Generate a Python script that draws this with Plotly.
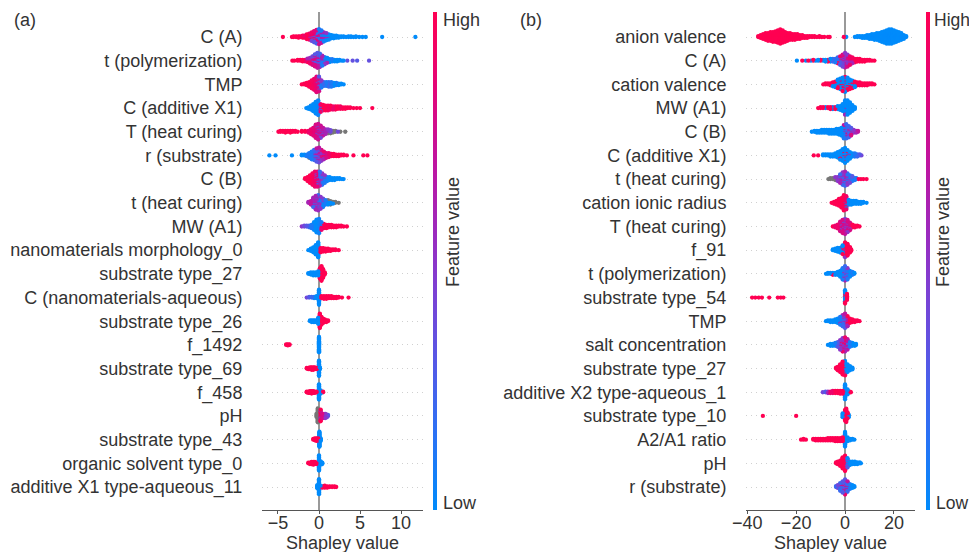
import numpy as np
import plotly.graph_objects as go

# ---------------- data ----------------
# Each feature: list of (shapley value, number of samples, feature value 0..1 or None = missing)
FEATURES_A = ["C (A)", "t (polymerization)", "TMP", "C (additive X1)", "T (heat curing)",
              "r (substrate)", "C (B)", "t (heat curing)", "MW (A1)", "nanomaterials morphology_0",
              "substrate type_27", "C (nanomaterials-aqueous)", "substrate type_26", "f_1492",
              "substrate type_69", "f_458", "pH", "substrate type_43", "organic solvent type_0",
              "additive X1 type-aqueous_11"]

a_C_A = [(-4.4,1,1),(-3.3,1,1),(-3.1,2,1),(-2.8,2,1),(-2.5,3,1),(-2.3,2,0.9),(-2.0,4,1),(-1.8,4,0.9),
         (-1.5,6,1),(-1.5,2,0.6),(-1.2,7,0.9),(-1.2,3,0.5),(-0.9,9,0.9),(-0.9,5,0.4),(-0.6,11,0.85),
         (-0.6,7,0.3),(-0.3,12,0.8),(-0.3,10,0.2),(0.0,12,0.75),(0.0,12,0.1),(0.3,9,0.7),(0.3,11,0.1),
         (0.6,6,0.6),(0.6,9,0.05),(0.9,4,0.5),(0.9,8,0),(1.2,2,0.6),(1.2,7,0),(1.5,6,0),(1.8,5,0),
         (2.1,4,0),(2.4,3,0),(2.7,2,0),(3.0,2,0),(3.3,1,0),(3.6,2,0),(3.9,2,0),(4.2,1,0),(4.5,2,0),
         (4.9,1,0),(5.3,1,0),(5.7,1,0),(7.7,1,0),(11.75,1,0)]
a_t_poly = [(-3.25,1,1),(-3.0,1,1),(-2.6,2,1),(-2.3,2,1),(-2.0,3,1),(-1.7,3,0.9),(-1.4,4,1),(-1.4,2,0.6),
            (-1.1,6,0.9),(-1.1,3,0.5),(-0.8,8,0.8),(-0.8,5,0.4),(-0.5,11,0.8),(-0.5,7,0.3),(-0.2,12,0.7),
            (-0.2,10,0.3),(0.1,10,0.6),(0.1,10,0.2),(0.4,7,0.6),(0.4,8,0.1),(0.7,4,0.5),(0.7,7,0.05),
            (1.0,2,0.6),(1.0,6,0),(1.3,5,0),(1.6,4,0.1),(1.9,3,0),(2.2,3,0),(2.5,2,0),(2.8,1,0),(3.0,1,0),
            (3.45,1,0.35),(4.1,1,0.35),(4.65,1,0.3),(6.1,1,0.35)]
a_TMP = [(-2.1,1,1),(-1.8,2,1),(-1.5,4,1),(-1.2,7,1),(-0.9,11,0.95),(-0.6,15,0.9),(-0.3,18,0.85),(-0.3,3,0.3),
         (0.0,14,0.8),(0.0,6,0.3),(0.3,4,0.5),(0.3,6,0.1),(0.6,6,0.2),(0.9,6,0.1),(1.2,7,0.2),(1.5,7,0.1),
         (1.8,5,0),(2.1,4,0.1),(2.4,3,0),(2.7,2,0),(3.0,1,0)]
a_C_addX1 = [(-1.55,1,0),(-1.3,3,0),(-1.0,6,0),(-0.7,10,0),(-0.4,16,0),(-0.1,20,0.05),(0.2,8,0.9),(0.2,3,0.2),
             (0.5,8,1),(0.8,7,1),(1.1,7,0.95),(1.4,6,1),(1.7,5,0.9),(2.0,5,1),(2.3,4,1),(2.6,4,0.95),
             (2.9,3,1),(3.2,3,1),(3.5,2,1),(3.8,2,1),(4.2,1,1),(4.6,1,1),(5.0,1,1),(6.5,1,1)]
a_T_heat = [(-4.95,1,1),(-4.7,2,1),(-4.4,2,1),(-4.1,3,1),(-3.8,2,1),(-3.5,3,1),(-3.2,2,1),(-2.9,2,1),(-2.6,1,1),
            (-2.1,2,1),(-1.7,2,1),(-1.3,3,0.9),(-1.0,7,0.9),(-0.7,11,0.85),(-0.4,15,0.8),(-0.4,3,0.4),
            (-0.1,16,0.75),(-0.1,5,0.4),(0.2,12,0.75),(0.2,5,0.4),(0.5,8,0.7),(0.5,3,0.3),(0.8,5,0.6),
            (0.8,2,None),(1.1,3,0.5),(1.1,3,None),(1.4,2,0.4),(1.4,3,None),(1.7,3,None),(2.0,2,None),
            (2.3,1,0.4),(2.6,1,None),(3.2,1,None)]
a_r_sub = [(-6.05,1,0),(-5.3,1,0),(-3.3,1,0),(-2.1,2,0),(-1.8,2,0),(-1.5,3,0.1),(-1.2,5,0.1),(-1.2,2,None),
           (-0.9,8,0.1),(-0.9,3,None),(-0.6,10,0.2),(-0.6,4,0.6),(-0.3,12,0.3),(-0.3,6,0.7),(0.0,12,0.4),
           (0.0,8,0.7),(0.3,8,0.5),(0.3,7,0.8),(0.6,6,0.6),(0.6,5,0.9),(0.9,7,0.8),(1.2,6,0.9),(1.5,4,1),
           (1.8,4,1),(2.1,3,1),(2.4,3,1),(2.7,2,1),(3.0,2,1),(3.4,1,1),(4.2,1,1),(5.4,1,1),(5.9,1,1)]
a_C_B = [(-1.7,2,1),(-1.4,5,1),(-1.1,9,1),(-0.8,13,0.95),(-0.5,14,0.9),(-0.5,3,0.4),(-0.2,12,0.85),(-0.2,5,0.3),
         (0.1,8,0.6),(0.1,8,0.2),(0.4,5,0.5),(0.4,8,0.15),(0.7,3,0.5),(0.7,6,0.1),(1.0,5,0.05),(1.3,4,0),
         (1.6,3,0),(1.9,3,0),(2.2,2,0),(2.5,2,0),(2.8,1,0),(3.0,1,0)]
a_t_heat = [(-1.3,2,0.6),(-1.0,5,0.7),(-0.7,9,0.6),(-0.7,3,0.2),(-0.4,12,0.6),(-0.4,5,0.3),(-0.1,13,0.55),
            (-0.1,6,0.2),(0.2,9,0.5),(0.2,6,0.1),(0.5,5,0.4),(0.5,6,0.05),(0.8,4,0.1),(0.8,2,None),(1.1,3,0),
            (1.1,3,None),(1.4,2,0),(1.4,3,None),(1.7,2,None),(1.7,1,0),(2.0,2,None),(2.4,1,None)]
a_MW_A1 = [(-2.1,1,0.5),(-1.8,2,0.4),(-1.5,2,0.3),(-1.2,3,0.2),(-0.9,5,0.1),(-0.6,10,0),(-0.3,16,0),(0.0,18,0.05),
           (0.3,6,0.9),(0.3,4,0.1),(0.6,6,1),(0.9,5,1),(1.2,4,1),(1.5,4,1),(1.8,3,1),(2.1,3,1),(2.4,2,1),
           (2.7,2,1),(3.0,1,1),(3.4,1,1)]
a_nano_morph0 = [(-1.3,1,0),(-1.0,4,0),(-0.7,8,0),(-0.4,14,0),(-0.1,22,0),(0.2,7,1),(0.5,6,1),(0.8,5,1),
                 (1.1,4,1),(1.4,3,1),(1.7,2,1),(2.0,2,1),(2.4,1,1)]
a_sub27 = [(-1.3,2,0),(-1.0,4,0),(-0.7,5,0),(-0.4,5,0),(-0.1,6,0),(0.1,14,1),(0.3,20,1),(0.5,12,1),(0.7,4,1)]
a_C_nano_aq = [(-1.5,1,0.4),(-1.2,2,0.3),(-0.9,2,0.2),(-0.6,3,0.1),(-0.3,4,0),(0.0,24,0),(0.3,4,1),(0.6,5,1),
               (0.9,5,1),(1.2,4,1),(1.5,4,1),(1.8,3,1),(2.1,3,1),(2.4,2,1),(2.8,1,1),(3.6,1,1)]
a_sub26 = [(-1.1,2,0),(-0.9,3,0),(-0.7,3,0),(-0.5,3,0),(-0.3,3,0),(-0.1,8,0),(0.1,18,1),(0.3,10,1),(0.5,6,1),
           (0.7,4,1),(0.9,3,1),(1.1,2,1)]
a_f1492 = [(-4.0,2,1),(-3.8,3,1),(-3.6,2,1),(0.0,30,0)]
a_sub69 = [(-1.5,2,1),(-1.3,3,1),(-1.1,4,1),(-0.9,5,1),(-0.7,5,1),(-0.5,4,1),(-0.3,3,1),(0.0,26,0),(0.1,4,0)]
a_f458 = [(-1.5,2,1),(-1.3,3,1),(-1.1,4,1),(-0.9,5,1),(-0.7,4,1),(-0.5,3,1),(-0.3,2,1),(0.0,26,0),(0.2,6,0),(0.5,2,1)]
a_pH = [(-0.3,4,None),(-0.15,14,None),(0.0,12,None),(0.2,8,1),(0.2,4,0.6),(0.4,5,0.8),(0.6,5,0.6),(0.8,5,0.5),
        (1.0,3,0.4),(1.1,2,0.3)]
a_sub43 = [(-0.7,2,1),(-0.5,4,1),(-0.3,5,1),(-0.1,4,1),(0.05,24,0),(0.2,5,0)]
a_org_solv0 = [(-1.3,2,1),(-1.1,3,1),(-0.9,4,1),(-0.7,5,1),(-0.5,4,1),(-0.3,3,1),(0.0,24,0),(0.2,6,0),(0.4,3,0)]
a_addX1_aq11 = [(-0.2,6,0),(0.0,24,0),(0.2,4,0),(0.4,3,1),(0.7,4,1),(1.0,3,1),(1.3,2,1),(1.6,2,1),(1.9,2,1),(2.1,1,1)]

FEATURES_B = ["anion valence", "C (A)", "cation valence", "MW (A1)", "C (B)", "C (additive X1)",
              "t (heat curing)", "cation ionic radius", "T (heat curing)", "f_91", "t (polymerization)",
              "substrate type_54", "TMP", "salt concentration", "substrate type_27",
              "additive X2 type-aqueous_1", "substrate type_10", "A2/A1 ratio", "pH", "r (substrate)"]

b_anion_val = [(-35.5,2,1),(-34.5,4,1),(-33.5,6,1),(-32.5,8,1),(-31.5,9,1),(-30.5,10,1),(-29.5,11,1),(-28.5,12,1),
               (-27.5,14,1),(-26.5,16,1),(-25.5,14,1),(-24.5,11,1),(-23.5,9,1),(-22.5,8,1),(-21.5,7,1),
               (-20.5,7,1),(-19.5,6,1),(-18.5,5,1),(-17.5,4,1),(-16.5,3,1),(-15.5,3,1),(-14.5,2,1),(-13.5,2,1),
               (-12.5,2,1),(-11.5,1,1),(-10.5,2,1),(-9.5,1,1),(-8.5,1,1),(-7.0,1,1),(-6.3,1,1),(-0.5,1,1),
               (0.5,1,0),(4.0,1,0),(5.0,2,0),(6.0,2,0),(7.0,3,0),(8.0,3,0),(9.0,4,0),(10.0,5,0),(11.0,6,0),
               (12.0,7,0),(13.0,8,0),(14.0,9,0),(15.0,11,0),(16.0,13,0),(17.0,15,0),(18.0,16,0),(19.0,16,0),
               (20.0,14,0),(21.0,12,0),(22.0,10,0),(23.0,8,0),(24.0,5,0),(25.0,2,0)]
b_C_A = [(-19.7,1,0),(-17.5,1,1),(-16,1,0),(-15,1,1),(-14,1,0),(-13,2,1),(-12,1,0),(-11,2,0),(-10,2,1),(-9,2,0),
         (-8,3,0),(-7,3,1),(-6,4,0),(-5,4,0.2),(-4,5,0.1),(-3,6,0.2),(-3,2,1),(-2,8,0.3),(-2,3,0.9),(-1,10,0.4),
         (-1,5,0.8),(0,10,0.5),(0,8,0.7),(1,8,0.5),(1,7,0.8),(2,5,0.6),(2,6,0.9),(3,3,0.6),(3,5,0.95),(4,5,1),
         (5,4,1),(6,4,1),(7,3,1),(8,3,1),(9,2,1),(10,2,1),(11,1,1),(12,1,1)]
b_cation_val = [(-8.9,1,1),(-8,2,1),(-7,2,1),(-6,3,1),(-5,3,0),(-5,2,1),(-4,5,0),(-4,2,1),(-3,7,0),(-3,3,1),
                (-2,9,0),(-2,3,1),(-1,11,0),(-1,4,1),(0,12,0),(0,5,1),(1,10,0),(1,4,1),(2,7,0),(2,4,1),(3,5,0),
                (3,4,1),(4,3,0),(4,4,1),(5,4,1),(6,4,1),(7,3,1),(8,3,1),(9,3,1),(10,2,1),(11,2,1),(12,1,1)]
b_MW_A1 = [(-11,1,1),(-10,2,1),(-9,2,1),(-8,2,0),(-7,2,1),(-6,3,1),(-5,3,0),(-4,3,1),(-3,4,0),(-2,5,0),(-1,8,0),
           (0,14,0),(0,2,0.6),(1,16,0),(2,12,0),(3,7,0),(4,3,0)]
b_C_B = [(-13.6,1,0),(-12.5,2,0),(-11.5,3,0),(-10.5,3,0),(-9.5,4,0),(-8.5,4,0),(-7.5,4,0),(-6.5,5,0),(-5.5,5,0),
         (-4.5,5,0),(-3.5,6,0),(-2.5,7,0),(-1.5,9,0),(-0.5,12,0.1),(-0.5,3,0.7),(0.5,12,0.2),(0.5,4,0.8),
         (1.5,9,0.2),(1.5,4,0.6),(2.5,6,0.3),(2.5,3,0.8),(3.5,4,0.5),(4.5,3,0.6),(5.3,2,0.7)]
b_C_addX1 = [(-12.8,1,1),(-11,1,1),(-9,2,0),(-8,2,0),(-7,2,0),(-6,3,0),(-5,3,0),(-4,4,0),(-3,6,0),(-2,8,0),
             (-2,1,1),(-1,10,0),(-1,2,1),(0,12,0),(0,3,1),(1,9,0),(1,2,1),(2,6,0),(2,1,0.6),(3,4,0),(4,4,0.1),
             (5,3,0.2),(6,2,0.3),(6.7,1,0.4)]
b_t_heat = [(-6.8,1,None),(-6,2,None),(-5,2,None),(-4,3,None),(-4,1,0.5),(-3,5,0.5),(-2,7,0.6),(-2,3,0.2),
            (-1,9,0.5),(-1,5,0.2),(0,10,0.6),(0,6,0.2),(1,8,0.5),(1,5,0.15),(2,5,0.4),(2,4,0.1),(3,3,0.3),
            (3,3,0.1),(4,3,0.1),(4.6,2,0.1),(5.5,1,1),(6.5,1,1),(7.5,1,1),(8.8,1,1)]
b_cation_radius = [(-5.5,1,1),(-4.5,3,1),(-3.5,5,1),(-2.5,8,1),(-1.5,11,1),(-0.5,15,1),(-0.5,2,0.6),(0.5,12,0.9),
                   (0.5,3,0),(1.5,6,0),(2.5,5,0),(3.5,4,0),(4.5,4,0),(5.5,3,0),(6.5,3,0),(7.5,2,0),(8.8,1,0)]
b_T_heat = [(-5,1,1),(-4,3,0.9),(-3,5,0.9),(-2,8,0.8),(-2,3,0.4),(-1,11,0.8),(-1,4,0.4),(0,12,0.7),(0,5,0.4),
            (1,10,0.8),(1,4,0.5),(2,7,0.8),(2,2,0.4),(3,4,1),(4,3,1),(5,2,1),(5.9,1,1)]
b_f91 = [(-5,2,0),(-4,4,0),(-3,6,0),(-2,7,0),(-1,6,0),(-1,6,1),(0,18,1),(0,2,0.5),(1,16,1),(2,8,1),(2.5,3,1)]
b_t_poly = [(-7.8,1,0),(-7,2,0),(-6,2,0),(-5,2,1),(-5,1,0),(-4,3,0),(-3,4,0),(-2,7,0),(-1,10,0.1),(-1,3,0.6),
            (0,12,0.2),(0,4,0.6),(1,10,0.1),(1,3,0.5),(2,7,0),(3,4,0.1),(3.8,2,0)]
b_sub54 = [(-38,1,1),(-36.7,1,1),(-35.3,1,1),(-34,1,1),(-31,1,1),(-27.5,1,1),(-26.3,1,1),(-25.2,1,1),
           (0,8,0),(0,4,1),(0.8,6,1)]
b_TMP = [(-7.8,1,0),(-7,2,0),(-6,3,0),(-5,3,0),(-4,4,0),(-3,6,0),(-2,8,0.1),(-2,2,0.6),(-1,10,0.2),(-1,4,0.6),
         (0,12,0.3),(0,6,0.7),(1,8,0.6),(1,5,1),(2,6,1),(3,4,1),(4,3,1),(5,2,1),(5.9,1,1)]
b_salt_conc = [(-7,1,0),(-6,3,0),(-5,3,0),(-4,4,0.1),(-3,6,0.3),(-2,8,0.5),(-2,3,0.9),(-1,10,0.5),(-1,5,0.9),
               (0,10,0.6),(0,6,0.9),(1,8,0.7),(1,4,0.2),(2,6,0.1),(3,4,0),(4,3,0),(4.5,2,0)]
b_sub27 = [(-3.7,2,1),(-3,5,1),(-2,10,1),(-1,16,1),(0,14,0),(0,4,1),(1,10,0),(2,6,0),(3,3,0)]
b_addX2_aq1 = [(-9.1,1,0.4),(-8,2,0.3),(-7,3,0.6),(-6,3,0.9),(-5,4,0.9),(-4,4,1),(-3,4,1),(-2,5,1),(-1,5,1),
               (0,22,0),(1,6,0),(1,2,1),(2,2,1),(2.4,1,1)]
b_sub10 = [(-33.6,1,1),(-20,1,1),(-1,4,0),(0,10,1),(0.5,12,1),(1,6,1),(1.5,3,0)]
b_A2A1 = [(-18,1,1),(-17,2,1),(-16,1,1),(-13,2,1),(-12,3,1),(-11,3,1),(-10,3,1),(-9,3,1),(-8,3,1),(-7,4,1),
          (-6,4,1),(-5,4,1),(-4,5,1),(-3,5,1),(-2,5,1),(-1,6,1),(0,20,0),(1,6,0),(2,3,0),(3,2,0),(3.8,1,0)]
b_pH = [(-3.7,2,1),(-3,4,1),(-2,7,1),(-1,12,1),(-1,2,None),(0,16,1),(0,3,0.5),(1,8,0.3),(1,4,0),(2,5,0),
        (3,4,0),(4,4,0),(5,3,0),(6,2,0),(6.5,1,0)]
b_r_sub = [(-3.7,2,0.2),(-3,4,0.4),(-2,7,0.2),(-2,2,0.8),(-1,10,0.3),(-1,3,0.8),(0,12,0.3),(0,5,0.9),
           (1,9,0.2),(1,3,0.7),(2,6,0.1),(3,4,0),(3.8,2,0)]

XTICKS_A = [-5, 0, 5, 10]
XTICKS_B = [-40, -20, 0, 20]
XTITLE = "Shapley value"

DATA_A = [a_C_A, a_t_poly, a_TMP, a_C_addX1, a_T_heat, a_r_sub, a_C_B, a_t_heat, a_MW_A1, a_nano_morph0,
          a_sub27, a_C_nano_aq, a_sub26, a_f1492, a_sub69, a_f458, a_pH, a_sub43, a_org_solv0, a_addX1_aq11]
DATA_B = [b_anion_val, b_C_A, b_cation_val, b_MW_A1, b_C_B, b_C_addX1, b_t_heat, b_cation_radius, b_T_heat,
          b_f91, b_t_poly, b_sub54, b_TMP, b_salt_conc, b_sub27, b_addX2_aq1, b_sub10, b_A2A1, b_pH, b_r_sub]

# ---------------- layout helpers ----------------
# body margin is removed by a post script, so the figure starts at the page corner
OFF = 0
W, H = 969, 552


def fx(px):
    return (px - OFF) / W


def fy(py):
    return 1 - (py - OFF) / H


COLORSCALE = [[0.0, '#008bfb'], [0.15, '#2a72f5'], [0.3, '#5658e6'], [0.45, '#7f3fd2'],
              [0.55, '#9a2bbf'], [0.7, '#c0149f'], [0.85, '#e40577'], [1.0, '#ff0052']]
TXT = '#333333'
FONT = 'Liberation Sans, Arial, sans-serif'
MSIZE = 4.3


def swarm(clusters, row, row_height=0.4):
    xs, cs = [], []
    for s, n, fv in clusters:
        xs += [s] * n
        cs += [fv] * n
    xs = np.array(xs, float)
    N = len(xs)
    quant = np.round(100 * (xs - xs.min()) / (xs.max() - xs.min() + 1e-8))
    tie = (np.arange(N) * 0.6180339887) % 1.0
    inds = np.lexsort((tie, quant))
    ys = np.zeros(N)
    layer, last = 0, None
    for ind in inds:
        if quant[ind] != last:
            layer = 0
        ys[ind] = np.ceil(layer / 2) * ((layer % 2) * 2 - 1)
        layer += 1
        last = quant[ind]
    ys *= 0.9 * (row_height / np.max(ys + 1))
    return xs, row + ys, cs, tie


fig = go.Figure()


def add_panel(features, data, xref, yref, cax):
    nrow = len(features)
    gx, gy, px, py, pc, pk = [], [], [], [], [], []
    for i, cl in enumerate(data):
        row = nrow - 1 - i
        xs, ys, cs, tie = swarm(cl, row)
        for x, y, c, t in zip(xs, ys, cs, tie):
            if c is None:
                gx.append(x); gy.append(y)
            else:
                px.append(x); py.append(y); pc.append(c); pk.append(t)
    order = np.argsort(pk, kind='stable')
    px = np.array(px)[order]; py = np.array(py)[order]; pc = np.array(pc)[order]
    fig.add_trace(go.Scatter(x=gx, y=gy, mode='markers', xaxis=xref, yaxis=yref, hoverinfo='skip',
                             marker=dict(size=MSIZE, color='#777777', line=dict(width=0))))
    fig.add_trace(go.Scatter(x=px, y=py, mode='markers', xaxis=xref, yaxis=yref, hoverinfo='skip',
                             marker=dict(size=MSIZE, color=pc, coloraxis=cax, line=dict(width=0))))


add_panel(FEATURES_A, DATA_A, 'x', 'y', 'coloraxis')
add_panel(FEATURES_B, DATA_B, 'x2', 'y2', 'coloraxis2')

YDOM = [fy(510), fy(12)]
YRANGE = [-0.971, 20.056]


def yaxis_cfg(features, anchor):
    n = len(features)
    return dict(domain=YDOM, range=YRANGE, tickvals=list(range(n)), ticktext=features[::-1],
                showgrid=True, gridcolor='#d0d0d0', griddash='1px,4px', gridwidth=1,
                ticks='outside', ticklen=15, tickcolor='rgba(0,0,0,0)', showline=False,
                zeroline=False, automargin=False, anchor=anchor,
                tickfont=dict(size=18, color=TXT, family=FONT), fixedrange=True)


def xaxis_cfg(domain, rng, ticks, anchor):
    return dict(domain=domain, range=rng, tickvals=ticks, anchor=anchor,
                ticktext=[('\u2212' + str(abs(t))) if t < 0 else str(t) for t in ticks],
                showline=True, linecolor='#555555', linewidth=1, ticks='outside', ticklen=3,
                tickcolor='#555555', showgrid=False, zeroline=True, zerolinecolor='#999999',
                zerolinewidth=1.5, automargin=False, ticklabelstandoff=-7,
                tickfont=dict(size=18, color=TXT, family=FONT))


def cbar(x):
    return dict(x=x, xanchor='left', xpad=0, ypad=0, thickness=4, len=498, lenmode='pixels',
                y=fy(12), yanchor='top', outlinewidth=0, showticklabels=False, ticks='')


fig.update_layout(
    width=W, height=H, margin=dict(l=0, r=0, t=0, b=0, autoexpand=False),
    plot_bgcolor='white', paper_bgcolor='white', showlegend=False,
    font=dict(family=FONT, size=18, color=TXT),
    xaxis=xaxis_cfg([fx(262), fx(423)], [-6.95, 12.68], XTICKS_A, 'y'),
    yaxis=yaxis_cfg(FEATURES_A, 'x'),
    xaxis2=xaxis_cfg([fx(746), fx(915)], [-40.5, 28.6], XTICKS_B, 'y2'),
    yaxis2=yaxis_cfg(FEATURES_B, 'x2'),
    coloraxis=dict(colorscale=COLORSCALE, cmin=0, cmax=1, colorbar=cbar(fx(433))),
    coloraxis2=dict(colorscale=COLORSCALE, cmin=0, cmax=1, colorbar=cbar(fx(926))),
)

ann = [
    dict(text='(a)', x=12, y=20, xanchor='left'),
    dict(text='(b)', x=518, y=20, xanchor='left'),
    dict(text='High', x=441, y=20, xanchor='left'),
    dict(text='Low', x=441, y=503, xanchor='left'),
    dict(text='High', x=932, y=20, xanchor='left', size=17.5),
    dict(text='Low', x=934, y=503, xanchor='left', size=17.5),
    dict(text='Feature value', x=453, y=232, xanchor='center', textangle=-90),
    dict(text='Feature value', x=943, y=232, xanchor='center', textangle=-90),
    dict(text=XTITLE, x=342.5, y=543, xanchor='center'),
    dict(text=XTITLE, x=830.5, y=543, xanchor='center'),
]
for a in ann:
    fig.add_annotation(text=a['text'], x=fx(a['x']), y=fy(a['y']), xref='paper', yref='paper',
                       xanchor=a['xanchor'], yanchor='middle', showarrow=False,
                       textangle=a.get('textangle', 0),
                       font=dict(size=a.get('size', 18), color=TXT, family=FONT))

fig.write_html('out.html',
               config={'displayModeBar': False, 'staticPlot': True},
               post_script="document.body.style.margin='0';"
                           "document.documentElement.style.overflow='hidden';")
